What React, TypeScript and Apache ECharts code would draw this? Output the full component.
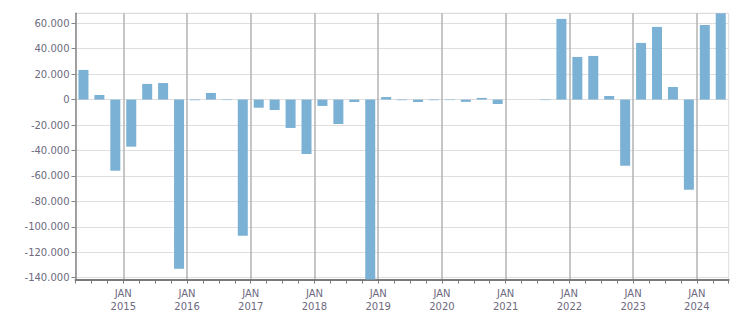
import React, { useEffect, useRef } from "react";
import * as echarts from "echarts";

const quarters: string[] = [
  "2014 Q2", "2014 Q3", "2014 Q4",
  "2015 Q1", "2015 Q2", "2015 Q3", "2015 Q4",
  "2016 Q1", "2016 Q2", "2016 Q3", "2016 Q4",
  "2017 Q1", "2017 Q2", "2017 Q3", "2017 Q4",
  "2018 Q1", "2018 Q2", "2018 Q3", "2018 Q4",
  "2019 Q1", "2019 Q2", "2019 Q3", "2019 Q4",
  "2020 Q1", "2020 Q2", "2020 Q3", "2020 Q4",
  "2021 Q1", "2021 Q2", "2021 Q3", "2021 Q4",
  "2022 Q1", "2022 Q2", "2022 Q3", "2022 Q4",
  "2023 Q1", "2023 Q2", "2023 Q3", "2023 Q4",
  "2024 Q1", "2024 Q2",
];

const values: number[] = [
  23300, 3600, -55900,
  -37000, 12300, 13000, -132900,
  -500, 5200, -400, -107000,
  -6400, -8200, -22300, -42800,
  -5000, -19200, -1900, -141400,
  2000, -500, -1900, -500,
  -400, -1800, 1300, -3500,
  0, 0, -400, 63400,
  33500, 34300, 2800, -52000,
  44500, 57100, 9900, -70800,
  58600, 67800,
];

const yearLabels: string[] = [
  "2015", "2016", "2017", "2018", "2019", "2020", "2021", "2022", "2023", "2024",
];

// boundaries between quarters (one more than quarters); years start at Q1
const boundaryLabels: string[] = Array.from({ length: quarters.length + 1 }, (_, i) => {
  const q = quarters[i];
  if (q && q.endsWith("Q1")) {
    const y = q.slice(0, 4);
    if (yearLabels.includes(y)) return "JAN\n" + y;
  }
  return "";
});

const fmt = (v: number) =>
  v === 0 ? "0" : (v < 0 ? "-" : "") + Math.abs(v).toString().replace(/\B(?=(\d{3})+(?!\d))/g, ".");

export default function App() {
  const ref = useRef<HTMLDivElement>(null);
  useEffect(() => {
    if (!ref.current) return;
    const chart = echarts.init(ref.current, undefined, { renderer: "svg" });
    const textColor = "#6e6a80";
    const font = "DejaVu Sans, Verdana, sans-serif";
    chart.setOption({
      animation: false,
      grid: {
        left: 75.5,
        right: 22.3,
        top: 13.3,
        bottom: 33.5,
        show: true,
        borderColor: "#dddddd",
        borderWidth: 1,
        backgroundColor: "transparent",
      },
      xAxis: [
        {
          type: "category",
          data: quarters,
          boundaryGap: true,
          show: false,
          position: "bottom",
        },
        {
          type: "category",
          data: boundaryLabels,
          boundaryGap: false,
          position: "bottom",
          axisLine: { show: true, onZero: false, lineStyle: { color: "#7a7a7a", width: 2 } },
          axisTick: { show: true, interval: 0, length: 4, lineStyle: { color: "#7a7a7a", width: 1 } },
          axisLabel: {
            interval: 0,
            color: textColor,
            fontFamily: font,
            fontSize: 10,
            lineHeight: 13,
            margin: 7,
          },
          splitLine: {
            show: true,
            interval: (i: number) => boundaryLabels[i] !== "",
            lineStyle: { color: "#b3b3b3", width: 1.5 },
          },
        },
      ],
      yAxis: {
        type: "value",
        min: (v: { min: number }) => v.min,
        max: (v: { max: number }) => v.max,
        splitNumber: 10,
        axisLine: { show: true, lineStyle: { color: "#858585", width: 1.5 } },
        axisTick: { show: true, length: 4, lineStyle: { color: "#858585" } },
        axisLabel: {
          showMinLabel: false,
          showMaxLabel: false,
          color: textColor,
          fontFamily: font,
          fontSize: 10,
          margin: 6,
          formatter: (v: number) => fmt(v),
        },
        splitLine: { show: true, lineStyle: { color: "#dedede", width: 1.2 } },
      },
      series: [
        {
          type: "bar",
          xAxisIndex: 0,
          data: values,
          barWidth: 10,
          itemStyle: { color: "#7bb1d4" },
        },
      ],
    });
    return () => chart.dispose();
  }, []);
  return (
    <div
      ref={ref}
      style={{ position: "absolute", left: 0, top: 0, width: 751, height: 313 }}
    />
  );
}
